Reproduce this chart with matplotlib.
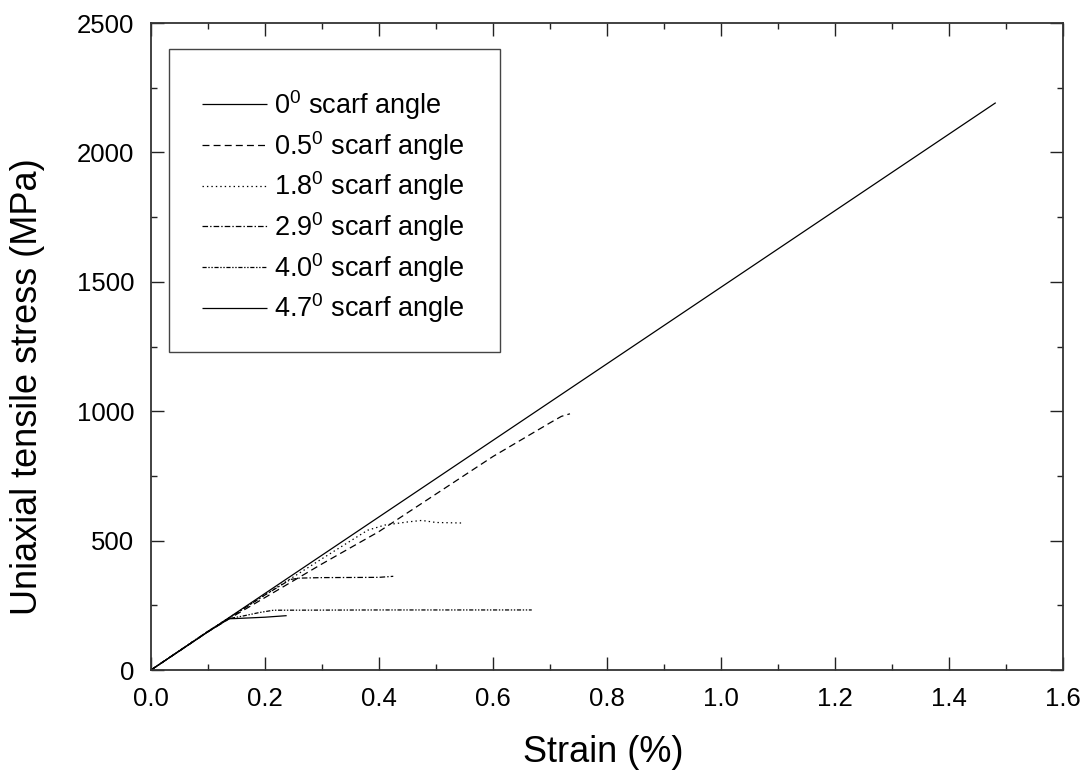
import matplotlib
matplotlib.use("Agg")
import matplotlib.pyplot as plt
from matplotlib.patches import Rectangle
from matplotlib.ticker import MultipleLocator

plt.rcParams['font.family'] = ['Liberation Sans', 'DejaVu Sans']
plt.rcParams['mathtext.fontset'] = 'custom'
plt.rcParams['mathtext.rm'] = 'Liberation Sans'
plt.rcParams['mathtext.it'] = 'Liberation Sans'
plt.rcParams['lines.scale_dashes'] = False

# Stress-strain curves (strain in %, stress in MPa)
strain_0 = [0.0, 1.482]
stress_0 = [0.0, 2192]

strain_05 = [0.0, 0.1, 0.15, 0.2, 0.3, 0.4, 0.5, 0.6, 0.65, 0.7, 0.72, 0.735]
stress_05 = [0.0, 148, 215, 280, 410, 535, 680, 825, 890, 955, 980, 990]

strain_18 = [0.0, 0.1, 0.2, 0.3, 0.38, 0.41, 0.45, 0.475, 0.5, 0.545]
stress_18 = [0.0, 150, 290, 430, 540, 560, 572, 578, 570, 568]

strain_29 = [0.0, 0.1, 0.2, 0.245, 0.26, 0.3, 0.4, 0.425]
stress_29 = [0.0, 148, 290, 350, 355, 357, 358, 362]

strain_40 = [0.0, 0.1, 0.135, 0.16, 0.19, 0.215, 0.4, 0.668]
stress_40 = [0.0, 150, 198, 208, 222, 231, 232, 232]

strain_47 = [0.0, 0.1, 0.137, 0.15, 0.2, 0.238]
stress_47 = [0.0, 148, 198, 199, 204, 210]

labels = [r'0$^{0}$ scarf angle', r'0.5$^{0}$ scarf angle', r'1.8$^{0}$ scarf angle',
          r'2.9$^{0}$ scarf angle', r'4.0$^{0}$ scarf angle', r'4.7$^{0}$ scarf angle']

x_ticks = [0.0, 0.2, 0.4, 0.6, 0.8, 1.0, 1.2, 1.4, 1.6]
y_ticks = [0, 500, 1000, 1500, 2000, 2500]

fig = plt.figure(figsize=(10.89, 7.81), dpi=100)
ax = fig.add_axes([151 / 1089, 1 - 670 / 781, 912 / 1089, 647 / 781])

lw = 0.9
series = [
    (strain_0, stress_0, (0, ())),
    (strain_05, stress_05, (0, (5, 3))),
    (strain_18, stress_18, (0, (1, 2.2))),
    (strain_29, stress_29, (0, (4, 1.5, 1, 1.5))),
    (strain_40, stress_40, (0, (3, 1.2, 1, 1.2, 1, 1.2))),
    (strain_47, stress_47, (0, ())),
]
handles = []
for (xs, ys, ls), lab in zip(series, labels):
    h, = ax.plot(xs, ys, color='black', lw=lw, linestyle=ls, label=lab)
    handles.append(h)

ax.set_xlim(0, 1.6)
ax.set_ylim(0, 2500)
ax.set_xticks(x_ticks)
ax.set_xticklabels([f'{v:.1f}' for v in x_ticks])
ax.set_yticks(y_ticks)
ax.set_yticklabels([str(v) for v in y_ticks])
ax.xaxis.set_minor_locator(MultipleLocator(0.1))
ax.yaxis.set_minor_locator(MultipleLocator(250))
ax.tick_params(which='both', direction='in', top=True, right=True, width=1.0, color='#222222')
ax.tick_params(which='major', length=9.5)
ax.tick_params(which='minor', length=4.5)
ax.tick_params(axis='x', which='major', labelsize=18.5, pad=12.5)
ax.tick_params(axis='y', which='major', labelsize=18.5, pad=12)
for sp in ax.spines.values():
    sp.set_linewidth(1.3)
    sp.set_color('#333333')

fig.text(603 / 1089, 1 - 753 / 781, 'Strain (%)', fontsize=26, ha='center', va='center')
fig.text(28 / 1089, 1 - 387 / 781, 'Uniaxial tensile stress (MPa)', fontsize=26,
         ha='center', va='center', rotation=90)

# Legend frame drawn as a plain rectangle in axes coordinates
box = Rectangle(((169 - 151) / 912, (670 - 352) / 647), (500 - 169) / 912, (352 - 49) / 647,
                transform=ax.transAxes, fill=True, facecolor='white', edgecolor='#444444',
                lw=1.0, zorder=5)
ax.add_patch(box)
leg = ax.legend(handles=handles, loc='upper left',
                bbox_to_anchor=((202 - 151) / 912, (670 - 88) / 647),
                frameon=False, fontsize=19.5, handlelength=2.4, handletextpad=0.27,
                labelspacing=0.255, borderpad=0, borderaxespad=0)
leg.set_zorder(6)

fig.savefig('out.png', dpi=100)
